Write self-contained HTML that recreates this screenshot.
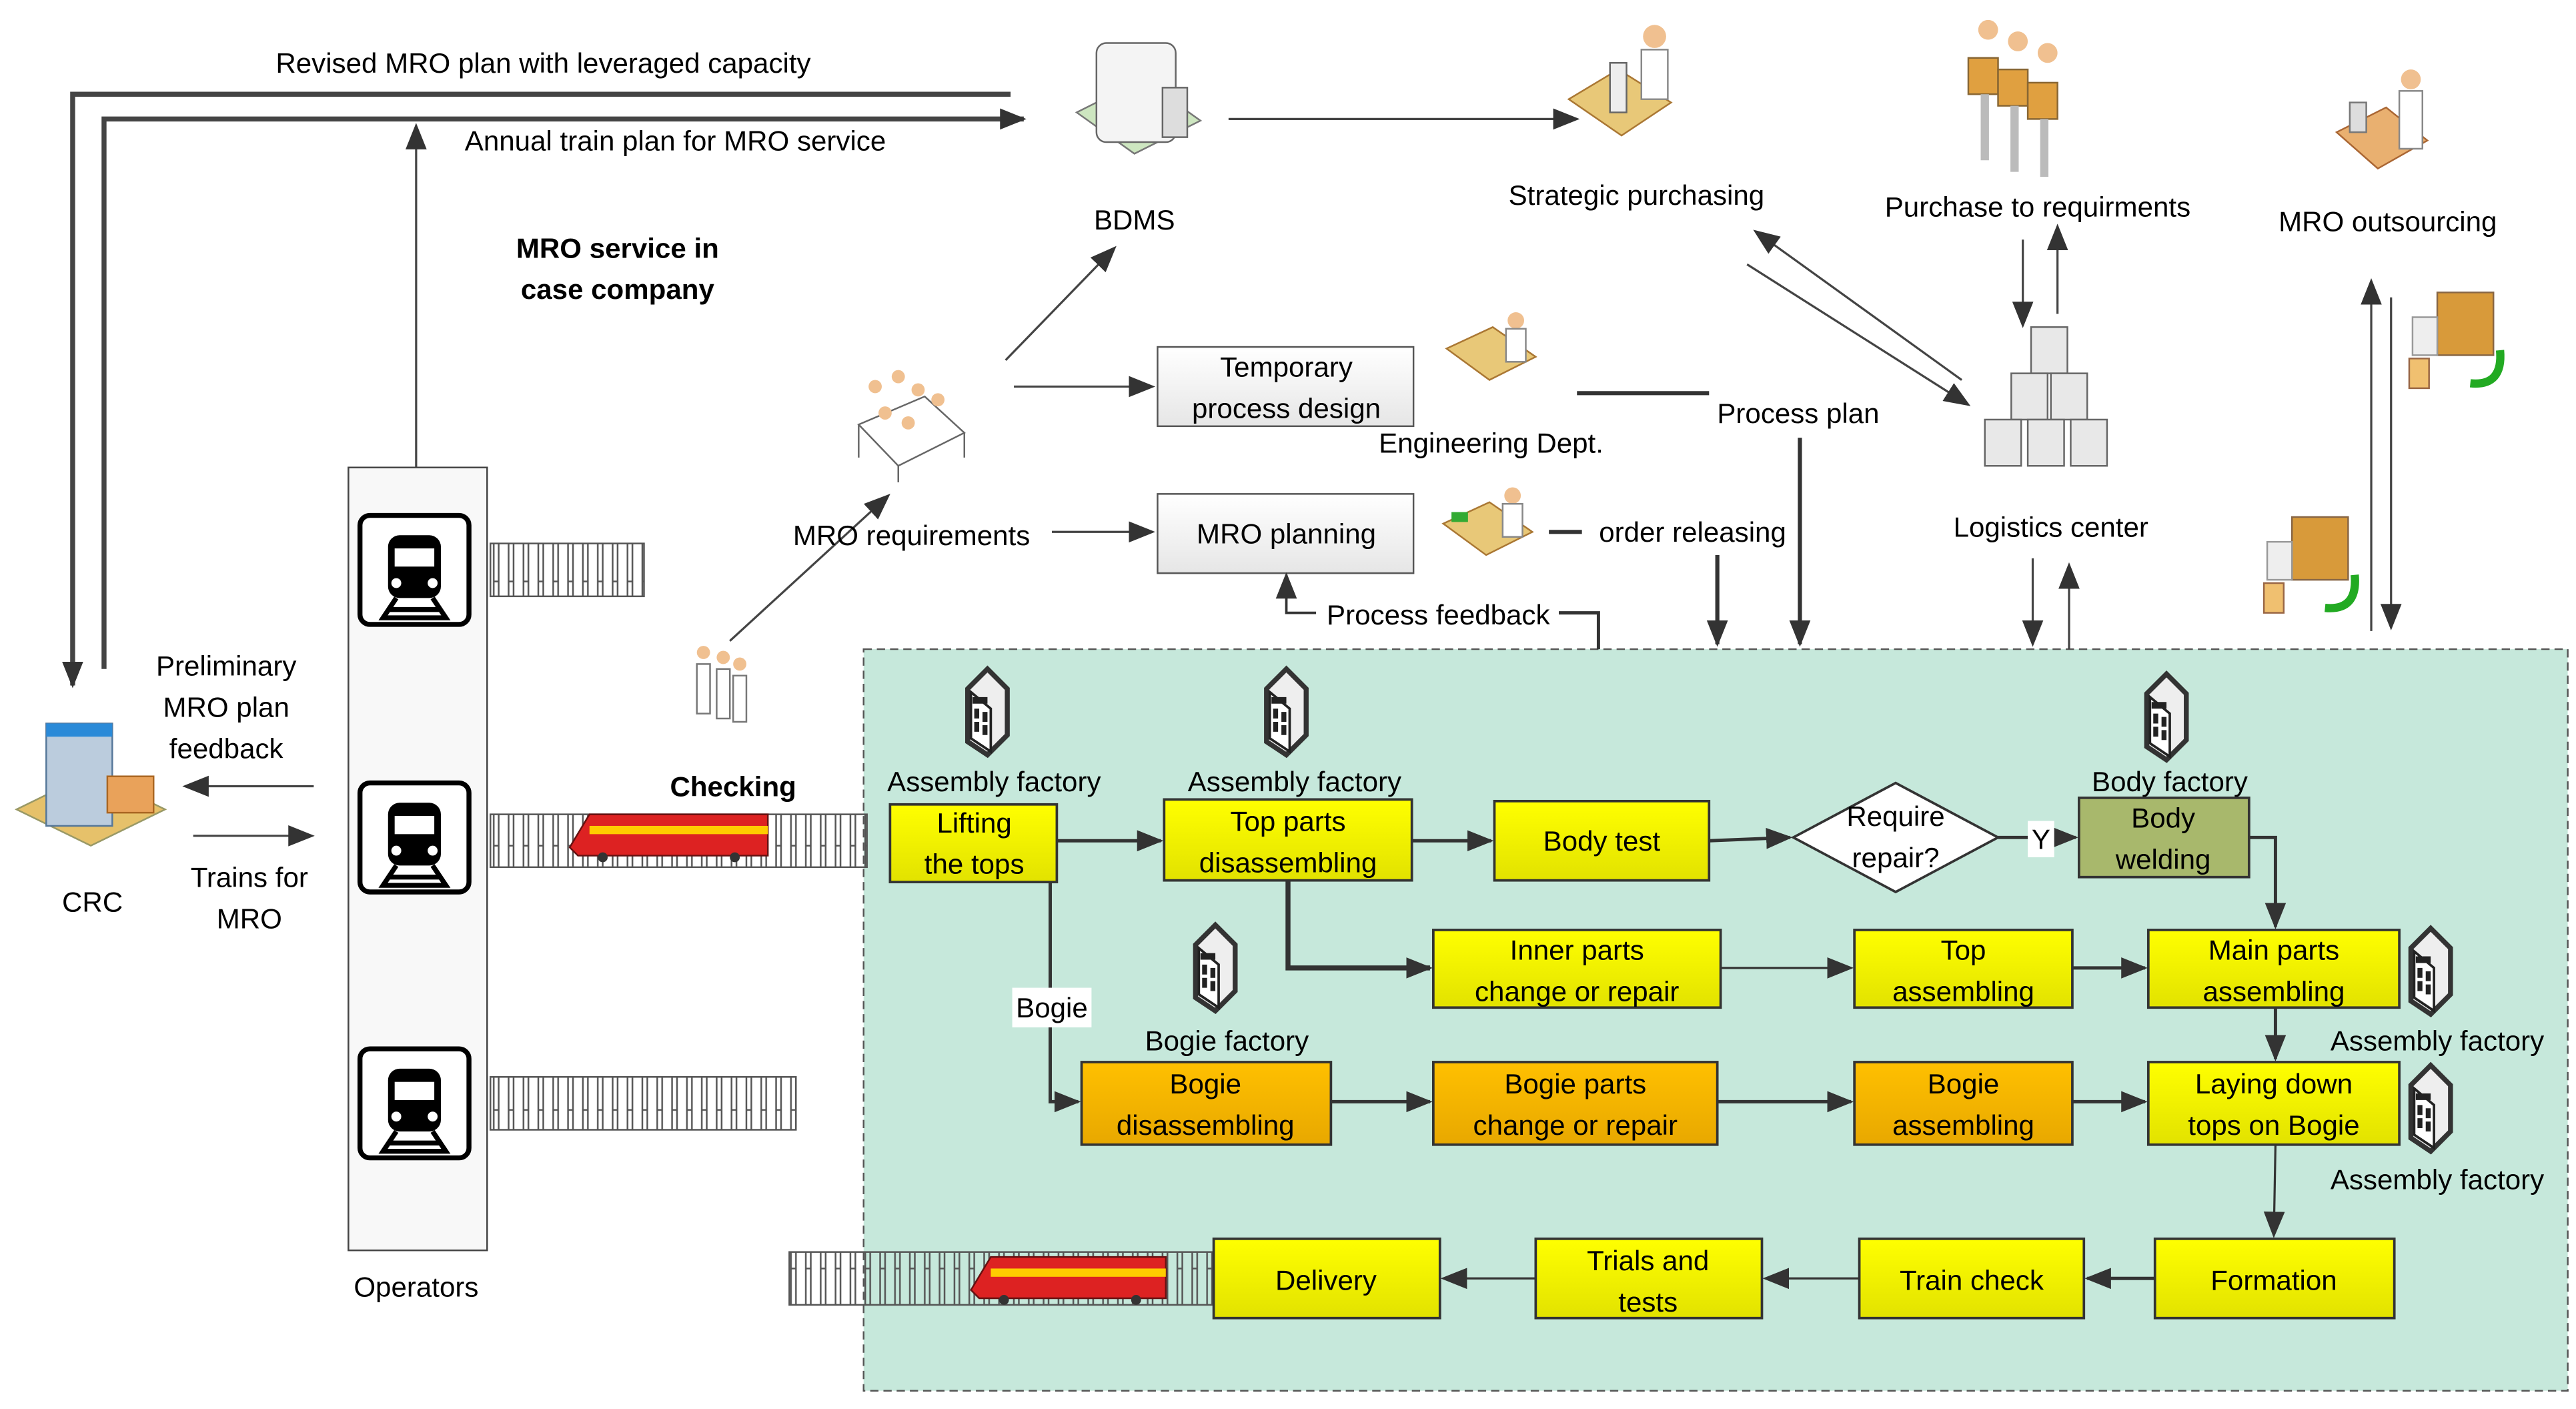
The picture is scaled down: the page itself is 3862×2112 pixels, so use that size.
<!DOCTYPE html>
<html><head><meta charset="utf-8"><style>
html,body{margin:0;padding:0;background:#fff}
svg{display:block}
text{font-family:"Liberation Sans",sans-serif;font-size:17px;fill:#000}
.c{text-anchor:middle}
</style></head><body>
<svg width="3862" height="2112" viewBox="0 0 1560 853" xmlns="http://www.w3.org/2000/svg">
<defs>
<marker id="a" viewBox="0 0 10 10" refX="9" refY="5" markerWidth="7" markerHeight="7" orient="auto" markerUnits="userSpaceOnUse"><path d="M0,0L10,5L0,10z" fill="#333"/></marker>
<marker id="b" viewBox="0 0 10 10" refX="9" refY="5" markerWidth="16" markerHeight="16" orient="auto" markerUnits="userSpaceOnUse"><path d="M0,1L10,5L0,9z" fill="#333"/></marker>
<linearGradient id="y" x1="0" y1="0" x2="0" y2="1"><stop offset="0" stop-color="#ffff00"/><stop offset="1" stop-color="#e2e200"/></linearGradient>
<linearGradient id="o" x1="0" y1="0" x2="0" y2="1"><stop offset="0" stop-color="#ffc000"/><stop offset="1" stop-color="#e8a800"/></linearGradient>
<linearGradient id="w" x1="0" y1="0" x2="0" y2="1"><stop offset="0" stop-color="#fff"/><stop offset="1" stop-color="#e6e6e6"/></linearGradient>
<g id="bld"><path d="M0,12L12,0L24,12L24,40L12,52L0,44z" fill="#eee" stroke="#333" stroke-width="3"/><path d="M2,14L14,24L14,50L2,42z" fill="#fff" stroke="#222" stroke-width="1.5"/><path d="M3,17h9v4h-9zM4,24h3v6h-3zM9,26h3v6h-3zM4,32h3v6h-3zM9,34h3v6h-3z" fill="#222"/></g>
<g id="tr"><rect x="0" y="0" width="66" height="66" rx="6" fill="#fff" stroke="#000" stroke-width="3"/><rect x="17" y="12" width="32" height="38" rx="7" fill="#000"/><rect x="21" y="20" width="24" height="11" fill="#fff"/><circle cx="22" cy="41" r="3" fill="#fff"/><circle cx="44" cy="41" r="3" fill="#fff"/><path d="M22,50L14,62h38L44,50" fill="none" stroke="#000" stroke-width="3"/><path d="M18,57h30" stroke="#000" stroke-width="3"/></g>
<pattern id="rl" width="9" height="32" patternUnits="userSpaceOnUse"><rect x="2" y="0" width="3" height="32" fill="none" stroke="#555" stroke-width="1"/></pattern>
</defs>

<!-- green region -->
<rect x="523" y="393" width="1032" height="449" fill="#c6e8db" stroke="#555" stroke-dasharray="5,3"/>

<!-- top big lines -->
<path d="M612,57H44V415" fill="none" stroke="#444" stroke-width="3" marker-end="url(#b)"/>
<path d="M63,405V72H620" fill="none" stroke="#444" stroke-width="3" marker-end="url(#b)"/>
<path d="M252,283V76" stroke="#444" stroke-width="1.3" marker-end="url(#b)"/>
<text x="329" y="44" class="c">Revised MRO plan with leveraged capacity</text>
<text x="409" y="91" class="c">Annual train plan for MRO service</text>
<text x="374" y="156" class="c" font-weight="bold">MRO service in</text>
<text x="374" y="181" class="c" font-weight="bold">case company</text>

<!-- operators -->
<rect x="211" y="283" width="84" height="474" fill="#f8f8f8" stroke="#444"/>
<use href="#tr" x="218" y="312"/><use href="#tr" x="218" y="474"/><use href="#tr" x="218" y="635"/>
<text x="252" y="785" class="c">Operators</text>
<rect x="297" y="329" width="93" height="32" fill="url(#rl)" stroke="#555"/>
<rect x="297" y="493" width="228" height="32" fill="url(#rl)" stroke="#555"/>
<rect x="297" y="652" width="185" height="32" fill="url(#rl)" stroke="#555"/>
<rect x="478" y="758" width="257" height="32" fill="url(#rl)" stroke="#555"/>
<!-- trains -->
<g transform="translate(345,488)"><path d="M0,25L12,5H120V30H5z" fill="#d22" stroke="#611"/><rect x="12" y="12" width="108" height="5" fill="#fc0"/><circle cx="20" cy="31" r="3" fill="#333"/><circle cx="100" cy="31" r="3" fill="#333"/></g>
<g transform="translate(588,756)"><path d="M0,25L12,5H118V30H5z" fill="#d22" stroke="#611"/><rect x="12" y="12" width="106" height="5" fill="#fc0"/><circle cx="20" cy="31" r="3" fill="#333"/><circle cx="100" cy="31" r="3" fill="#333"/></g>

<!-- CRC -->
<g transform="translate(10,430)"><path d="M0,60L45,38L90,60L45,82z" fill="#e6c16a" stroke="#996"/><rect x="18" y="8" width="40" height="62" fill="#bcd" stroke="#579"/><rect x="18" y="8" width="40" height="8" fill="#2a8ad8"/><rect x="55" y="40" width="28" height="22" fill="#e9a25a" stroke="#a62"/></g>
<text x="56" y="552" class="c">CRC</text>
<text x="137" y="409" class="c">Preliminary</text>
<text x="137" y="434" class="c">MRO plan</text>
<text x="137" y="459" class="c">feedback</text>
<path d="M190,476H112" stroke="#444" stroke-width="1.3" marker-end="url(#b)"/>
<path d="M117,506H189" stroke="#444" stroke-width="1.3" marker-end="url(#b)"/>
<text x="151" y="537" class="c">Trains for</text>
<text x="151" y="562" class="c">MRO</text>

<!-- people top-left -->
<g transform="translate(520,222)"><path d="M0,35L40,18L64,40L24,60z" fill="#fff" stroke="#666"/><path d="M0,35V55M24,60V70M64,40V55" stroke="#666"/><circle cx="10" cy="12" r="4" fill="#f0c090"/><circle cx="24" cy="6" r="4" fill="#f0c090"/><circle cx="36" cy="14" r="4" fill="#f0c090"/><circle cx="48" cy="20" r="4" fill="#f0c090"/><circle cx="16" cy="28" r="4" fill="#f0c090"/><circle cx="30" cy="34" r="4" fill="#f0c090"/></g>
<g transform="translate(418,390)"><circle cx="8" cy="5" r="4" fill="#f0c090"/><circle cx="20" cy="8" r="4" fill="#f0c090"/><circle cx="30" cy="12" r="4" fill="#f0c090"/><path d="M4,12h8v30h-8zM16,15h8v30h-8zM26,19h8v28h-8z" fill="#fff" stroke="#777"/></g>
<text x="444" y="482" class="c" font-weight="bold">Checking</text>
<path d="M442,388L538,300" stroke="#444" stroke-width="1.3" marker-end="url(#b)"/>
<path d="M609,218L675,150" stroke="#444" stroke-width="1.3" marker-end="url(#b)"/>
<path d="M614,234H698" stroke="#444" stroke-width="1.3" marker-end="url(#b)"/>
<path d="M637,322H698" stroke="#444" stroke-width="1.3" marker-end="url(#b)"/>
<text x="552" y="330" class="c">MRO requirements</text>

<!-- BDMS -->
<g transform="translate(652,18)"><path d="M0,50L40,30L75,55L35,75z" fill="#cde6c0" stroke="#777"/><rect x="12" y="8" width="48" height="60" rx="6" fill="#f4f4f4" stroke="#666"/><rect x="52" y="35" width="15" height="30" fill="#ddd" stroke="#666"/></g>
<text x="687" y="139" class="c" font-family="Liberation Serif" font-size="17">BDMS</text>
<path d="M744,72H955" stroke="#444" stroke-width="1.3" marker-end="url(#b)"/>

<!-- Strategic purchasing icons -->
<g transform="translate(950,10)"><path d="M0,50L30,32L62,52L32,72z" fill="#e8c878" stroke="#a73"/><rect x="25" y="28" width="10" height="30" fill="#eee" stroke="#666"/><circle cx="52" cy="12" r="7" fill="#f0c090"/><path d="M44,20h16v30h-16z" fill="#fff" stroke="#888"/></g>
<text x="991" y="124" class="c">Strategic purchasing</text>
<g transform="translate(1192,10)"><circle cx="12" cy="8" r="6" fill="#f0c090"/><circle cx="30" cy="15" r="6" fill="#f0c090"/><circle cx="48" cy="22" r="6" fill="#f0c090"/><rect x="0" y="25" width="18" height="22" fill="#e0a040" stroke="#863"/><rect x="18" y="32" width="18" height="22" fill="#e0a040" stroke="#863"/><rect x="36" y="40" width="18" height="22" fill="#e0a040" stroke="#863"/><path d="M10,47v40M28,54v40M46,62v35" stroke="#bbb" stroke-width="5"/></g>
<text x="1234" y="131" class="c">Purchase to requirments</text>
<g transform="translate(1415,40)"><path d="M0,40L30,25L55,45L25,62z" fill="#e9b070" stroke="#a63"/><circle cx="45" cy="8" r="6" fill="#f0c090"/><rect x="38" y="15" width="14" height="35" fill="#fff" stroke="#888"/><rect x="8" y="22" width="10" height="18" fill="#ddd" stroke="#777"/></g>
<text x="1446" y="140" class="c">MRO outsourcing</text>

<path d="M1058,160L1192,245" stroke="#444" stroke-width="1.3" marker-end="url(#b)"/>
<path d="M1188,230L1063,140" stroke="#444" stroke-width="1.3" marker-end="url(#b)"/>
<path d="M1225,145V197" stroke="#444" stroke-width="1.3" marker-end="url(#b)"/>
<path d="M1246,190V137" stroke="#444" stroke-width="1.3" marker-end="url(#b)"/>
<!-- logistics boxes -->
<g transform="translate(1200,198)" fill="#e8e8e8" stroke="#666"><rect x="30" y="0" width="22" height="28"/><rect x="18" y="28" width="22" height="28"/><rect x="42" y="28" width="22" height="28"/><rect x="2" y="56" width="22" height="28"/><rect x="28" y="56" width="22" height="28"/><rect x="54" y="56" width="22" height="28"/></g>
<text x="1242" y="325" class="c">Logistics center</text>
<path d="M1231,338V390" stroke="#444" stroke-width="1.3" marker-end="url(#b)"/>
<path d="M1253,393V342" stroke="#444" stroke-width="1.3" marker-end="url(#b)"/>
<path d="M1436,382V170" stroke="#444" stroke-width="1.3" marker-end="url(#b)"/>
<path d="M1448,180V380" stroke="#444" stroke-width="1.3" marker-end="url(#b)"/>
<!-- trucks -->
<g transform="translate(1456,172)"><rect x="20" y="5" width="34" height="38" fill="#d89a3a" stroke="#864"/><rect x="5" y="20" width="15" height="23" fill="#eee" stroke="#999"/><rect x="3" y="45" width="12" height="18" fill="#f0c070" stroke="#964"/><path d="M40,60q20,2 18,-20" stroke="#2a2" stroke-width="5" fill="none"/></g>
<g transform="translate(1368,308)"><rect x="20" y="5" width="34" height="38" fill="#d89a3a" stroke="#864"/><rect x="5" y="20" width="15" height="23" fill="#eee" stroke="#999"/><rect x="3" y="45" width="12" height="18" fill="#f0c070" stroke="#964"/><path d="M40,60q20,2 18,-20" stroke="#2a2" stroke-width="5" fill="none"/></g>

<!-- engineering -->
<rect x="701" y="210" width="155" height="48" fill="url(#w)" stroke="#555"/>
<text x="779" y="228" class="c">Temporary</text>
<text x="779" y="253" class="c">process design</text>
<rect x="701" y="299" width="155" height="48" fill="url(#w)" stroke="#555"/>
<text x="779" y="329" class="c">MRO planning</text>
<g transform="translate(876,186)"><path d="M0,25L28,12L54,30L26,44z" fill="#e8c878" stroke="#a73"/><circle cx="42" cy="8" r="5" fill="#f0c090"/><rect x="36" y="13" width="12" height="20" fill="#fff" stroke="#888"/></g>
<g transform="translate(874,292)"><path d="M0,25L28,12L54,30L26,44z" fill="#e8c878" stroke="#a73"/><circle cx="42" cy="8" r="5" fill="#f0c090"/><rect x="36" y="13" width="12" height="20" fill="#fff" stroke="#888"/><rect x="5" y="18" width="10" height="6" fill="#3a3"/></g>
<text x="903" y="274" class="c">Engineering Dept.</text>
<path d="M955,238H1035" stroke="#333" stroke-width="2.5"/>
<text x="1089" y="256" class="c">Process plan</text>
<path d="M1090,265V390" stroke="#333" stroke-width="2.5" marker-end="url(#b)"/>
<path d="M938,322H958" stroke="#333" stroke-width="2.5"/>
<text x="1025" y="328" class="c">order releasing</text>
<path d="M1040,336V390" stroke="#333" stroke-width="2.5" marker-end="url(#b)"/>
<path d="M968,393V371H944" stroke="#333" stroke-width="2" fill="none"/>
<text x="871" y="378" class="c">Process feedback</text>
<path d="M797,371H779V348" stroke="#333" stroke-width="1.5" fill="none" marker-end="url(#b)"/>

<!-- factories -->
<use href="#bld" x="586" y="405"/><use href="#bld" x="767" y="405"/><use href="#bld" x="724" y="560"/><use href="#bld" x="1300" y="408"/><use href="#bld" x="1460" y="562"/><use href="#bld" x="1460" y="645"/>
<text x="602" y="479" class="c">Assembly factory</text>
<text x="784" y="479" class="c">Assembly factory</text>
<text x="743" y="636" class="c">Bogie factory</text>
<text x="1314" y="479" class="c">Body factory</text>
<text x="1476" y="636" class="c">Assembly factory</text>
<text x="1476" y="720" class="c">Assembly factory</text>

<!-- boxes -->
<g stroke="#333" stroke-width="1.5">
<rect x="539" y="487" width="101" height="47" fill="url(#y)"/>
<rect x="705" y="484" width="150" height="49" fill="url(#y)"/>
<rect x="905" y="485" width="130" height="48" fill="url(#y)"/>
<path d="M1086,507L1148,474L1210,507L1148,540z" fill="#fff"/>
<rect x="1259" y="483" width="103" height="48" fill="#a8b86c"/>
<rect x="868" y="563" width="174" height="47" fill="url(#y)"/>
<rect x="1123" y="563" width="132" height="47" fill="url(#y)"/>
<rect x="1301" y="563" width="152" height="47" fill="url(#y)"/>
<rect x="655" y="643" width="151" height="50" fill="url(#o)"/>
<rect x="868" y="643" width="172" height="50" fill="url(#o)"/>
<rect x="1123" y="643" width="132" height="50" fill="url(#o)"/>
<rect x="1301" y="643" width="152" height="50" fill="url(#y)"/>
<rect x="1305" y="750" width="145" height="48" fill="url(#y)"/>
<rect x="1126" y="750" width="136" height="48" fill="url(#y)"/>
<rect x="930" y="750" width="137" height="48" fill="url(#y)"/>
<rect x="735" y="750" width="137" height="48" fill="url(#y)"/>
</g>
<text x="590" y="504" class="c">Lifting</text><text x="590" y="529" class="c">the tops</text>
<text x="780" y="503" class="c">Top parts</text><text x="780" y="528" class="c">disassembling</text>
<text x="970" y="515" class="c">Body test</text>
<text x="1148" y="500" class="c">Require</text><text x="1148" y="525" class="c">repair?</text>
<text x="1310" y="501" class="c">Body</text><text x="1310" y="526" class="c">welding</text>
<text x="955" y="581" class="c">Inner parts</text><text x="955" y="606" class="c">change or repair</text>
<text x="1189" y="581" class="c">Top</text><text x="1189" y="606" class="c">assembling</text>
<text x="1377" y="581" class="c">Main parts</text><text x="1377" y="606" class="c">assembling</text>
<text x="730" y="662" class="c">Bogie</text><text x="730" y="687" class="c">disassembling</text>
<text x="954" y="662" class="c">Bogie parts</text><text x="954" y="687" class="c">change or repair</text>
<text x="1189" y="662" class="c">Bogie</text><text x="1189" y="687" class="c">assembling</text>
<text x="1377" y="662" class="c">Laying down</text><text x="1377" y="687" class="c">tops on Bogie</text>
<text x="1377" y="781" class="c">Formation</text>
<text x="1194" y="781" class="c">Train check</text>
<text x="998" y="769" class="c">Trials and</text><text x="998" y="794" class="c">tests</text>
<text x="803" y="781" class="c">Delivery</text>

<!-- process arrows -->
<g stroke="#333" stroke-width="2" fill="none">
<path d="M640,509H703" marker-end="url(#b)"/>
<path d="M855,509H903" marker-end="url(#b)"/>
<path d="M1035,509L1084,507" marker-end="url(#b)"/>
<path d="M1210,507H1257" marker-end="url(#b)"/>
<path d="M1362,507H1378V561" marker-end="url(#b)"/>
<path d="M780,533V586H866" stroke-width="3" marker-end="url(#b)"/>
<path d="M1042,586H1121" stroke-width="1.3" marker-end="url(#b)"/>
<path d="M1255,586H1299" marker-end="url(#b)"/>
<path d="M1378,610V641" marker-end="url(#b)"/>
<path d="M636,534V667H653" marker-end="url(#b)"/>
<path d="M806,667H866" marker-end="url(#b)"/>
<path d="M1040,667H1121" marker-end="url(#b)"/>
<path d="M1255,667H1299" marker-end="url(#b)"/>
<path d="M1378,693L1377,748" stroke-width="1.3" marker-end="url(#b)"/>
<path d="M1305,774H1264" marker-end="url(#b)"/>
<path d="M1126,774H1069" stroke-width="1.3" marker-end="url(#b)"/>
<path d="M930,774H874" stroke-width="1.3" marker-end="url(#b)"/>
</g>
<rect x="1228" y="497" width="16" height="22" fill="#fff"/><text x="1236" y="514" class="c">Y</text>
<rect x="613" y="598" width="48" height="24" fill="#fff"/><text x="637" y="616" class="c">Bogie</text>
</svg>
</body></html>
